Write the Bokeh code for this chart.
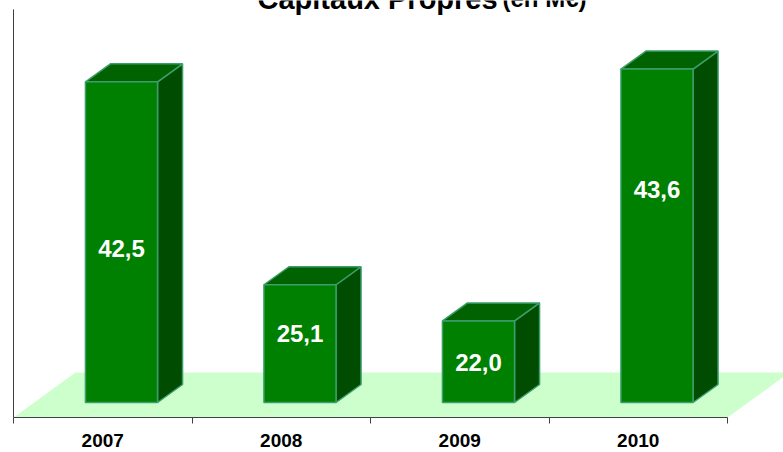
from bokeh.plotting import figure
from bokeh.models import FixedTicker, Range1d, ColumnDataSource, GlobalInlineStyleSheet
from bokeh.core.properties import value
from bokeh.embed import file_html
from bokeh.resources import INLINE

# ---- data ----
years = ["2007", "2008", "2009", "2010"]
equity = [42.5, 25.1, 22.0, 43.6]
value_labels = ["42,5", "25,1", "22,0", "43,6"]
title_main = "Capitaux Propres"
title_unit = "(en M€)"

# ---- scale / layout constants ----
AXIS_MIN, AXIS_MAX = 15.0, 50.0
W, H = 783, 452
PX_X = 178.5          # px per category
PX_Y = 11.66          # px per value unit
LEFT_PX = 13          # px of category boundary 0
BASE_PX = 402         # px of AXIS_MIN in the bar plane
FRAME_BOTTOM = 417    # px of the front edge of the floor

FRONT_OFF = (FRAME_BOTTOM - BASE_PX) / PX_Y
FLOOR_DX, FLOOR_DY = 62 / PX_X, 45 / PX_Y
BAR_DX, BAR_DY = 25 / PX_X, 18 / PX_Y
BAR_OFF, BAR_W = 0.403, 0.404
label_frac = [0.48, 0.59, 0.49, 0.64]

def px_to_x(px):
    return (px - LEFT_PX) / PX_X

def px_to_y(py):
    return AXIS_MIN + (BASE_PX - py) / PX_Y

x_range = Range1d(px_to_x(0), px_to_x(W))
y_range = Range1d(px_to_y(FRAME_BOTTOM), px_to_y(0))

page_css = GlobalInlineStyleSheet(css="html, body { margin: 0 !important; padding: 0 !important; overflow: hidden; }")

p = figure(width=W, height=H, x_range=x_range, y_range=y_range,
           output_backend="svg", toolbar_location=None,
           y_axis_location=None, x_axis_location="below",
           min_border_left=0, min_border_right=0, min_border_top=0,
           min_border_bottom=H - FRAME_BOTTOM)
p.stylesheets = [page_css]
p.outline_line_color = None
p.grid.visible = False
p.background_fill_color = "white"
p.border_fill_color = "white"

# ---- floor ----
y_front = AXIS_MIN - FRONT_OFF
n = len(years)
p.patch([0, n, n + FLOOR_DX, FLOOR_DX],
        [y_front, y_front, y_front + FLOOR_DY, y_front + FLOOR_DY],
        fill_color="#CCFFCC", line_color=None)

# ---- left axis line (front plane) ----
p.segment(x0=[0], y0=[AXIS_MIN - FRONT_OFF], x1=[0], y1=[AXIS_MAX - FRONT_OFF],
          line_color="#404040", line_width=1)

# ---- 3D bars ----
edge = "#3C9E6C"
lefts = [i + BAR_OFF for i in range(n)]
rights = [l + BAR_W for l in lefts]
side_xs, side_ys, top_xs, top_ys = [], [], [], []
for l, r, v in zip(lefts, rights, equity):
    side_xs.append([r, r + BAR_DX, r + BAR_DX, r])
    side_ys.append([AXIS_MIN, AXIS_MIN + BAR_DY, v + BAR_DY, v])
    top_xs.append([l, r, r + BAR_DX, l + BAR_DX])
    top_ys.append([v, v, v + BAR_DY, v + BAR_DY])
p.patches(side_xs, side_ys, fill_color="#004C00", line_color=edge, line_width=1.5)
p.patches(top_xs, top_ys, fill_color="#006200", line_color=edge, line_width=1.5)
p.quad(left=lefts, right=rights, bottom=[AXIS_MIN] * n, top=equity,
       fill_color="#008000", line_color=edge, line_width=1.5)

# ---- value labels ----
lab_src = ColumnDataSource(dict(
    x=[(l + r) / 2 for l, r in zip(lefts, rights)],
    y=[AXIS_MIN + f * (v - AXIS_MIN) for f, v in zip(label_frac, equity)],
    t=value_labels))
p.text(x="x", y="y", text="t", source=lab_src, text_color="white",
       text_font=value("Liberation Sans"), text_font_style="bold",
       text_font_size="24px", text_align="center", text_baseline="middle")

# ---- title (clipped at the top like the original) ----
TITLE_Y = px_to_y(-2)
p.text(x=[px_to_x(257)], y=[TITLE_Y], text=[title_main],
       text_font=value("Liberation Sans"), text_font_style="bold",
       text_font_size="29px", text_align="left", text_baseline="alphabetic",
       text_color="black")
p.text(x=[px_to_x(502)], y=[TITLE_Y], text=[title_unit],
       text_font=value("Liberation Sans"), text_font_style="bold",
       text_font_size="24px", text_align="left", text_baseline="alphabetic",
       text_color="black")

# ---- bottom axis ----
ax = p.xaxis[0]
ax.ticker = FixedTicker(ticks=[i + 0.5 for i in range(n)], minor_ticks=list(range(n + 1)))
ax.major_label_overrides = {i + 0.5: y for i, y in enumerate(years)}
ax.bounds = (0, n)
ax.axis_line_color = "#404040"
ax.axis_line_width = 1
ax.major_tick_line_color = None
ax.major_tick_out = 0
ax.major_tick_in = 0
ax.minor_tick_line_color = "#404040"
ax.minor_tick_out = 6
ax.minor_tick_in = 0
ax.major_label_standoff = 10
ax.major_label_text_font = "Liberation Sans"
ax.major_label_text_font_style = "bold"
ax.major_label_text_font_size = "19px"
ax.major_label_text_color = "black"

open("out.html", "w").write(file_html(p, INLINE))
